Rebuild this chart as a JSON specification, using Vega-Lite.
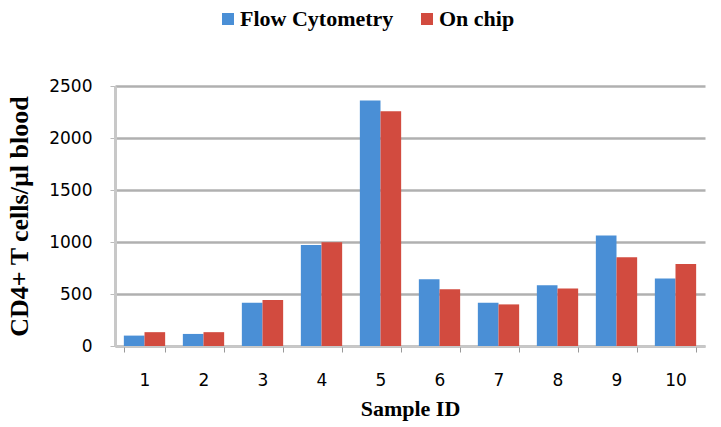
{
  "$schema": "https://vega.github.io/schema/vega-lite/v6.json",
  "width": 590,
  "height": 260,
  "padding": {"left": 6, "top": 8, "right": 5, "bottom": 5},
  "background": "white",
  "data": {"values": [
    {"sample": "1", "method": "Flow Cytometry", "value": 100},
    {"sample": "1", "method": "On chip", "value": 133},
    {"sample": "2", "method": "Flow Cytometry", "value": 116},
    {"sample": "2", "method": "On chip", "value": 133},
    {"sample": "3", "method": "Flow Cytometry", "value": 417},
    {"sample": "3", "method": "On chip", "value": 443},
    {"sample": "4", "method": "Flow Cytometry", "value": 972},
    {"sample": "4", "method": "On chip", "value": 998},
    {"sample": "5", "method": "Flow Cytometry", "value": 2361},
    {"sample": "5", "method": "On chip", "value": 2258},
    {"sample": "6", "method": "Flow Cytometry", "value": 642},
    {"sample": "6", "method": "On chip", "value": 546},
    {"sample": "7", "method": "Flow Cytometry", "value": 417},
    {"sample": "7", "method": "On chip", "value": 400},
    {"sample": "8", "method": "Flow Cytometry", "value": 584},
    {"sample": "8", "method": "On chip", "value": 552},
    {"sample": "9", "method": "Flow Cytometry", "value": 1063},
    {"sample": "9", "method": "On chip", "value": 853},
    {"sample": "10", "method": "Flow Cytometry", "value": 649},
    {"sample": "10", "method": "On chip", "value": 788}
  ]},
  "mark": {"type": "bar", "stroke": null},
  "encoding": {
    "x": {
      "field": "sample", "type": "nominal", "sort": null,
      "scale": {"paddingInner": 0.3, "paddingOuter": 0.15},
      "axis": {
        "title": "Sample ID", "titleFont": "Liberation Serif", "titleFontSize": 22, "titleFontWeight": "bold", "titleColor": "black", "titlePadding": 10,
        "labelAngle": 0, "labelFont": "DejaVu Sans", "labelFontSize": 17, "labelColor": "black", "labelPadding": 20,
        "domainColor": "#c8c8c8", "domainWidth": 2, "tickColor": "#999999", "tickSize": 6, "tickBand": "extent", "ticks": true
      }
    },
    "xOffset": {"field": "method", "type": "nominal", "sort": ["Flow Cytometry", "On chip"]},
    "y": {
      "field": "value", "type": "quantitative",
      "scale": {"domain": [0, 2500]},
      "axis": {
        "title": "CD4+ T cells/µl blood", "titleFont": "Liberation Serif", "titleFontSize": 26, "titleFontWeight": "bold", "titleColor": "black", "titlePadding": 16,
        "values": [0, 500, 1000, 1500, 2000, 2500], "format": "d", "labelFont": "DejaVu Sans", "labelFontSize": 17, "labelColor": "black", "labelPadding": 18,
        "grid": true, "gridColor": "#b0b0b0", "gridWidth": 2.5, "domainColor": "#c8c8c8", "domainWidth": 3, "tickColor": "#bbbbbb", "tickSize": 5
      }
    },
    "color": {
      "field": "method", "type": "nominal",
      "scale": {"domain": ["Flow Cytometry", "On chip"], "range": ["#4A8FD6", "#D24B3F"]},
      "legend": {
        "title": null, "orient": "none", "legendX": 102, "legendY": -78, "direction": "horizontal", "symbolType": "square", "symbolSize": 144,
        "labelFont": "Liberation Serif", "labelFontSize": 22, "labelFontWeight": "bold", "labelColor": "black",
        "columnPadding": 22, "labelOffset": 1
      }
    }
  },
  "config": {"view": {"stroke": null}}
}
